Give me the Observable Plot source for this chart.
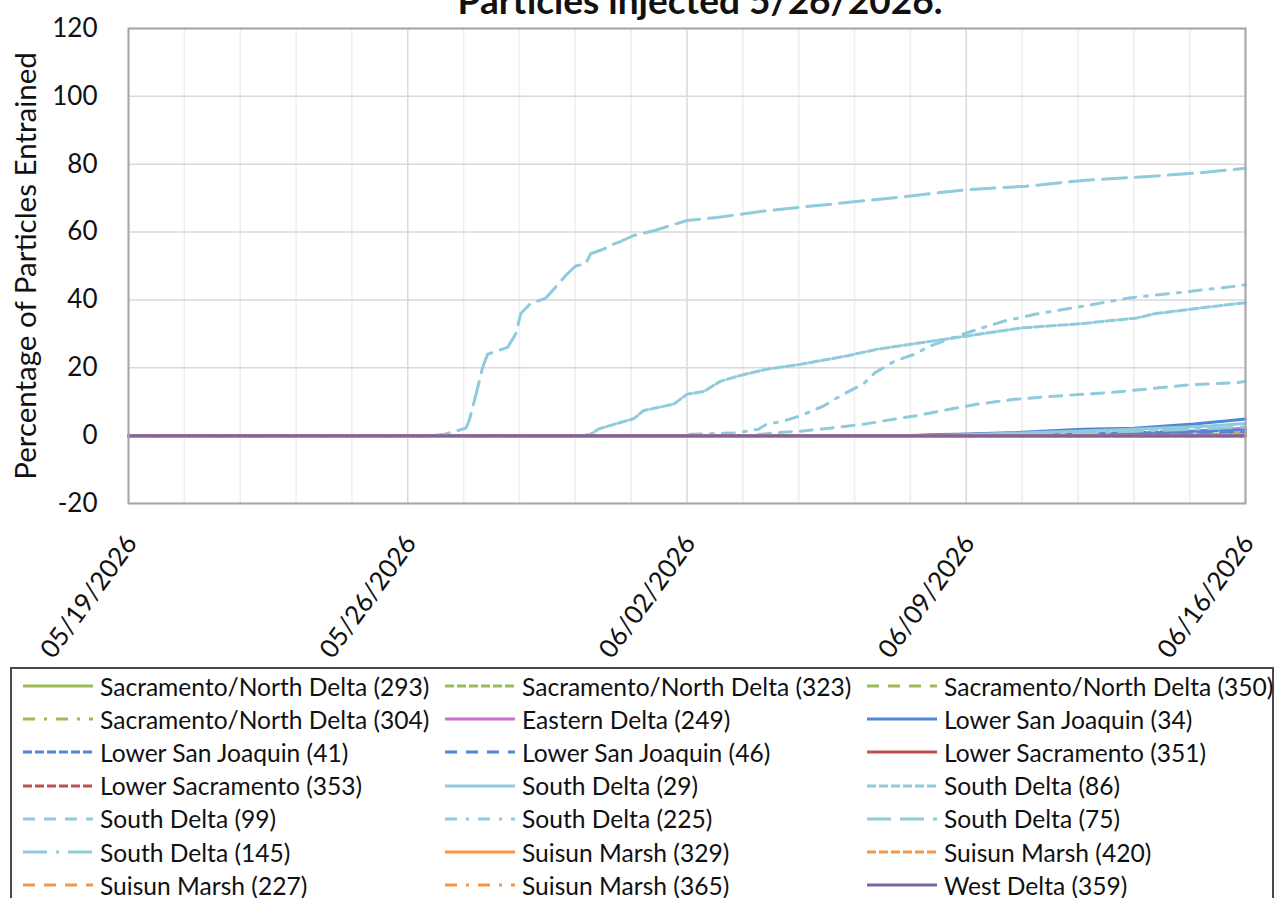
<!DOCTYPE html>
<html>
<head>
<meta charset="utf-8">
<script src="https://cdn.jsdelivr.net/npm/d3@7"></script>
<script src="https://cdn.jsdelivr.net/npm/@observablehq/plot@0.6"></script>
<style>
html,body{margin:0;padding:0;background:#fff;width:1276px;height:898px;overflow:hidden;font-family:Lato,"Open Sans",sans-serif;color:#111;}
#wrap{position:relative;width:1276px;height:898px;overflow:hidden;}
#title{position:absolute;left:700px;top:-15px;transform:translateX(-50%);white-space:nowrap;font-weight:bold;font-size:37px;line-height:30px;}
#chart{position:absolute;left:0;top:0;}
#legend{position:absolute;left:10px;top:667px;width:1264px;height:260px;border:2px solid #4a4a4a;box-sizing:border-box;background:#fff;}
.entry{position:absolute;height:30px;display:flex;align-items:center;white-space:nowrap;font-size:24.6px;}
.entry svg{flex:none;margin-right:7px;}
</style>
</head>
<body>
<div id="wrap">
  <div id="chart"></div>
  <div id="title">Particles injected 5/26/2026.</div>
  <div id="legend"></div>
</div>
<script>
// ---- axis ticks ----
const xTickLabels = ["05/19/2026","05/26/2026","06/02/2026","06/09/2026","06/16/2026"];
const yTicks = [-20, 0, 20, 40, 60, 80, 100, 120];
const yLabel = "Percentage of Particles Entrained";
const chartTitle = "Particles injected 5/26/2026.";

// ---- series names (legend order) ----
const seriesNames = [
  "Sacramento/North Delta (293)", "Sacramento/North Delta (323)", "Sacramento/North Delta (350)",
  "Sacramento/North Delta (304)", "Eastern Delta (249)", "Lower San Joaquin (34)",
  "Lower San Joaquin (41)", "Lower San Joaquin (46)", "Lower Sacramento (351)",
  "Lower Sacramento (353)", "South Delta (29)", "South Delta (86)",
  "South Delta (99)", "South Delta (225)", "South Delta (75)",
  "South Delta (145)", "Suisun Marsh (329)", "Suisun Marsh (420)",
  "Suisun Marsh (227)", "Suisun Marsh (365)", "West Delta (359)"
];

// ---- series values: [date-hour, percent entrained] ----
const sacND293 = [["2026-05-19T00",0],["2026-06-16T00",0]];
const sacND323 = [["2026-05-19T00",0],["2026-06-13T00",0],["2026-06-14T12",0.3],["2026-06-16T00",0.7]];
const sacND350 = [["2026-05-19T00",0],["2026-06-14T00",0],["2026-06-16T00",0.4]];
const sacND304 = [["2026-05-19T00",0],["2026-06-16T00",0]];
const eastern249 = [["2026-05-19T00",0],["2026-06-12T00",0],["2026-06-14T00",0.8],["2026-06-15T00",1.5],["2026-06-16T00",2.2]];
const lsj34 = [["2026-05-19T00",0],["2026-06-07T12",0],["2026-06-08T02",0.3],["2026-06-09T00",0.5],["2026-06-10T10",1.0],["2026-06-11T22",1.9],["2026-06-13T05",2.2],["2026-06-14T17",3.4],["2026-06-15T12",4.3],["2026-06-16T00",4.9]];
const lsj41 = [["2026-05-19T00",0],["2026-06-09T00",0],["2026-06-12T00",0.6],["2026-06-14T00",1.1],["2026-06-16T00",1.7]];
const lsj46 = [["2026-05-19T00",0],["2026-06-10T00",0],["2026-06-13T00",0.4],["2026-06-16T00",1.0]];
const lowerSac351 = [["2026-05-19T00",0],["2026-06-16T00",0]];
const lowerSac353 = [["2026-05-19T00",0],["2026-06-16T00",0]];
const southDelta29 = [["2026-05-19T00",0],["2026-06-08T00",0],["2026-06-09T00",0.3],["2026-06-11T00",1.0],["2026-06-13T00",1.8],["2026-06-15T00",2.8],["2026-06-16T00",3.6]];
const southDelta86 = [["2026-05-19T00",0],["2026-05-30T10",0],["2026-05-30T14",0.4],["2026-05-30T19",2],["2026-05-31T16",5],["2026-05-31T22",7.4],["2026-06-01T16",9.3],["2026-06-02T00",12.2],["2026-06-02T10",13],["2026-06-02T20",16],["2026-06-03T07",17.6],["2026-06-04T00",19.6],["2026-06-04T20",21],["2026-06-06T00",23.5],["2026-06-06T19",25.5],["2026-06-08T04",27.9],["2026-06-09T01",29.4],["2026-06-10T10",31.8],["2026-06-11T19",32.9],["2026-06-13T07",34.7],["2026-06-13T17",35.9],["2026-06-14T22",37.7],["2026-06-16T00",39.2]];
const southDelta99 = [["2026-05-19T00",0],["2026-06-03T12",0],["2026-06-04T07",0.9],["2026-06-04T20",1.3],["2026-06-05T14",2.2],["2026-06-06T00",2.8],["2026-06-06T11",3.4],["2026-06-07T00",4.5],["2026-06-07T17",5.8],["2026-06-08T14",7.8],["2026-06-09T07",9.3],["2026-06-10T05",10.7],["2026-06-11T07",11.7],["2026-06-12T12",12.6],["2026-06-13T12",13.7],["2026-06-14T14",15],["2026-06-15T19",15.6],["2026-06-16T00",16]];
const southDelta225 = [["2026-05-19T00",0],["2026-06-01T22",0],["2026-06-02T02",0.4],["2026-06-03T05",0.8],["2026-06-03T12",1.3],["2026-06-03T19",1.9],["2026-06-04T00",3.4],["2026-06-04T10",4.3],["2026-06-04T20",5.8],["2026-06-05T10",8.7],["2026-06-05T22",12.2],["2026-06-06T10",15.2],["2026-06-06T17",18.5],["2026-06-07T05",22],["2026-06-07T17",24],["2026-06-08T02",26.4],["2026-06-08T14",28.5],["2026-06-09T01",30.4],["2026-06-09T23",33.8],["2026-06-10T19",35.9],["2026-06-12T00",38.3],["2026-06-13T02",40.6],["2026-06-14T05",42],["2026-06-15T19",44.1],["2026-06-16T00",44.5]];
const southDelta75 = [["2026-05-19T00",0],["2026-05-26T14",0],["2026-05-26T22",0.4],["2026-05-27T11",2.2],["2026-05-27T13",4.5],["2026-05-27T17",12],["2026-05-27T21",20],["2026-05-28T00",24],["2026-05-28T12",26],["2026-05-28T17",30],["2026-05-28T20",36],["2026-05-29T02",39],["2026-05-29T11",40.5],["2026-05-30T00",47.7],["2026-05-30T05",50],["2026-05-30T11",50.6],["2026-05-30T14",53.6],["2026-05-30T22",55],["2026-05-31T04",56.5],["2026-05-31T07",57],["2026-05-31T16",59],["2026-06-01T04",60.4],["2026-06-02T00",63.4],["2026-06-02T18",64.3],["2026-06-04T00",66.3],["2026-06-06T00",68.7],["2026-06-07T12",70.5],["2026-06-09T00",72.5],["2026-06-10T12",73.5],["2026-06-12T00",75.3],["2026-06-13T12",76.3],["2026-06-15T00",77.6],["2026-06-16T00",78.8]];
const southDelta145 = [["2026-05-19T00",0],["2026-06-09T00",0],["2026-06-11T00",0.5],["2026-06-13T00",1.2],["2026-06-15T00",2.0],["2026-06-16T00",2.6]];
const suisun329 = [["2026-05-19T00",0],["2026-06-16T00",0]];
const suisun420 = [["2026-05-19T00",0],["2026-06-14T00",0],["2026-06-16T00",0.4]];
const suisun227 = [["2026-05-19T00",0],["2026-06-16T00",0]];
const suisun365 = [["2026-05-19T00",0],["2026-06-16T00",0]];
const westDelta359 = [["2026-05-19T00",0],["2026-06-16T00",0]];

const seriesValues = [sacND293, sacND323, sacND350, sacND304, eastern249, lsj34, lsj41, lsj46,
  lowerSac351, lowerSac353, southDelta29, southDelta86, southDelta99, southDelta225, southDelta75,
  southDelta145, suisun329, suisun420, suisun227, suisun365, westDelta359];

// ---- styles (kept apart from data) ----
const GREEN = "#9bbb59", PINK = "#d36bd3", BLUE = "#4f86d6", RED = "#c0504d", AQUA = "#8fcbdc", ORANGE = "#f79646", PURPLE = "#8064a2";
const seriesColors = [GREEN, GREEN, GREEN, GREEN, PINK, BLUE, BLUE, BLUE, RED, RED,
  AQUA, AQUA, AQUA, AQUA, AQUA, AQUA, ORANGE, ORANGE, ORANGE, ORANGE, PURPLE];
const seriesDashKinds = ["solid","sysDash","dash","dashDot","solid","solid","sysDash","dash","solid","sysDash",
  "solid","sysDash","dash","dashDot","lgDash","lgDashDot","solid","sysDash","dash","dashDot","solid"];
const DASH = {solid: null, sysDash: "9,3", dash: "12,9", dashDot: "12,9,3,9", lgDash: "24,9", lgDashDot: "24,9,3,9"};

const parseT = d3.timeParse("%Y-%m-%dT%H");
const parseTick = d3.timeParse("%m/%d/%Y");
const xTicks = xTickLabels.map(parseTick);
const x0 = xTicks[0], x1 = xTicks[xTicks.length - 1];
// minor gridlines: 4 between each pair of major (weekly) ticks
const minorGrid = [];
for (let i = 0; i < xTicks.length - 1; i++) {
  for (let k = 1; k < 5; k++) minorGrid.push(new Date(+xTicks[i] + (xTicks[i+1] - xTicks[i]) * k / 5));
}

const lineMarks = seriesValues.map((arr, i) => {
  const o = {x: d => parseT(d[0]), y: d => d[1], stroke: seriesColors[i], strokeWidth: 3, strokeLinejoin: "round"};
  const da = DASH[seriesDashKinds[i]];
  if (da) o.strokeDasharray = da;
  return Plot.line(arr, o);
});

const chart = Plot.plot({
  width: 1276,
  height: 665,
  marginLeft: 128,
  marginRight: 31,
  marginTop: 28,
  marginBottom: 162,
  x: {type: "time", domain: [x0, x1], axis: null},
  y: {domain: [-20, 120], axis: null},
  style: {fontFamily: "Lato, 'Open Sans', sans-serif", fontSize: "26px", color: "#111", background: "transparent", overflow: "visible"},
  marks: [
    Plot.ruleX(minorGrid, {stroke: "#eeeeee", strokeWidth: 1.5}),
    Plot.ruleX(xTicks, {stroke: "#d9d9d9", strokeWidth: 1.5}),
    Plot.ruleY(yTicks, {stroke: "#d9d9d9", strokeWidth: 1.5}),
    ...lineMarks,
    Plot.frame({stroke: "#a6a6a6", strokeWidth: 2}),
    Plot.axisY(yTicks, {tickSize: 0, tickPadding: 31, label: null, fontSize: 26, tickFormat: d => String(d)}),
    Plot.text([yLabel], {frameAnchor: "left", dx: -102, rotate: -90, textAnchor: "middle", fontSize: 29.5, fill: "#111"}),
    Plot.text(xTicks, {x: d => d, frameAnchor: "bottom", dy: 35, dx: 3, rotate: -54, textAnchor: "end", lineAnchor: "middle", text: d => d3.timeFormat("%m/%d/%Y")(d), fontSize: 26, fill: "#111"})
  ]
});
document.getElementById("chart").appendChild(chart);
document.getElementById("title").textContent = chartTitle;

// ---- legend ----
const legend = document.getElementById("legend");
const colLeft = [11, 433, 855];   // sample start, relative to legend box
seriesNames.forEach((name, i) => {
  const r = Math.floor(i / 3), c = i % 3;
  const div = document.createElement("div");
  div.className = "entry";
  div.style.left = colLeft[c] + "px";
  div.style.top = (2 + r * 33.2) + "px";
  const da = DASH[seriesDashKinds[i]];
  div.innerHTML = `<svg width="70" height="10"><line x1="0" x2="70" y1="5" y2="5" stroke="${seriesColors[i]}" stroke-width="3" ${da ? `stroke-dasharray="${da}"` : ""}/></svg><span></span>`;
  div.querySelector("span").textContent = name;
  legend.appendChild(div);
});
</script>
</body>
</html>
